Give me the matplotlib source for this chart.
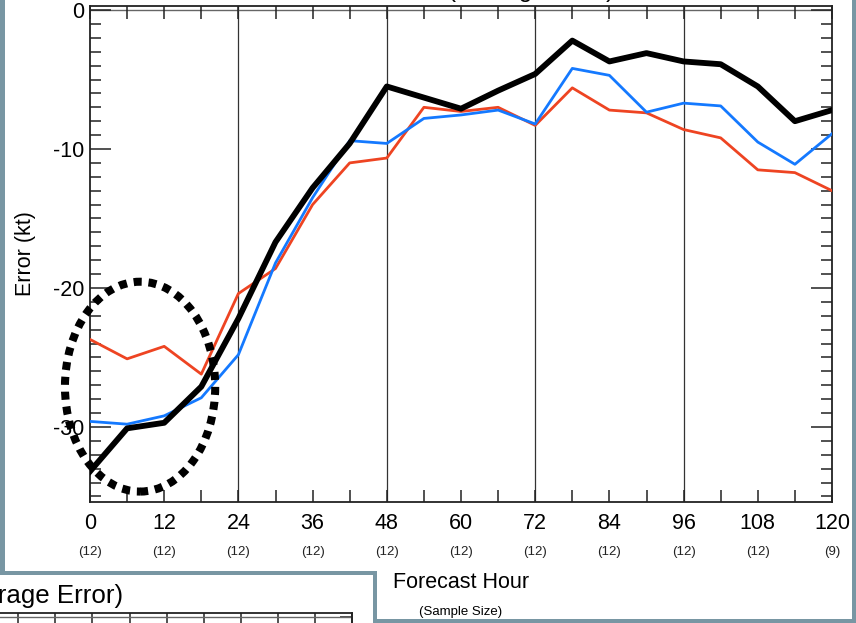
import matplotlib
matplotlib.use("Agg")
import matplotlib.pyplot as plt
from matplotlib.patches import Rectangle, Ellipse
from matplotlib.transforms import blended_transform_factory
import numpy as np

plt.rcParams['font.family'] = ['Liberation Sans', 'DejaVu Sans']

# ======================= data ======================================================
hours = [0, 6, 12, 18, 24, 30, 36, 42, 48, 54, 60, 66, 72, 78, 84, 90, 96, 102, 108, 114, 120]
black = [-33.2, -30.1, -29.7, -27.1, -22.2, -16.7, -12.8, -9.6, -5.5, -6.3, -7.1, -5.8,
         -4.6, -2.2, -3.7, -3.1, -3.7, -3.9, -5.5, -8.0, -7.2]
blue = [-29.6, -29.8, -29.2, -27.9, -24.8, -18.2, -13.5, -9.4, -9.6, -7.8, -7.55, -7.2,
        -8.2, -4.2, -4.7, -7.35, -6.7, -6.9, -9.5, -11.1, -8.9]
red = [-23.7, -25.1, -24.2, -26.2, -20.4, -18.6, -14.0, -11.0, -10.65, -7.0, -7.3, -7.0,
       -8.3, -5.6, -7.2, -7.4, -8.6, -9.2, -11.5, -11.7, -13.0]
tick_hours = [0, 12, 24, 36, 48, 60, 72, 84, 96, 108, 120]
sample_size = ['(12)'] * 10 + ['(9)']
y_ticks = [0, -10, -20, -30]
# ===================================================================================

W, H = 856, 623
BORDER = '#7896a3'
SPINE = '#222222'

fig = plt.figure(figsize=(W / 100, H / 100), dpi=100)
fig.patch.set_facecolor(BORDER)

# background panels in pixel coords
bg = fig.add_axes([0, 0, 1, 1], zorder=-10)
bg.set_xlim(0, W)
bg.set_ylim(H, 0)
bg.axis('off')
bg.add_patch(Rectangle((5, -5), 847, 624, facecolor='white', edgecolor='none'))
bg.add_patch(Rectangle((-5, 571), 382, 60, facecolor=BORDER, edgecolor='none'))
bg.add_patch(Rectangle((-5, 575), 378, 60, facecolor='white', edgecolor='none'))


def fx(px):
    return px / W


def fy(py):
    return 1 - py / H


# ======================= main axes =================================================
ax = fig.add_axes([fx(90), fy(502), fx(832) - fx(90), fy(6) - fy(502)])
ax.set_facecolor('none')
ax.set_xlim(0, 120)
ax.set_ylim(-35.4, 0.29)

for h in [24, 48, 72, 96]:
    ax.axvline(h, color='#333333', lw=0.9, zorder=1)
ax.axhline(0, color='#666666', lw=1.0, zorder=1)

ax.plot(hours, red, color='#ee4422', lw=2.0, zorder=3)
ax.plot(hours, blue, color='#1479ff', lw=2.0, zorder=3)
ax.plot(hours, black, color='black', lw=4.2, zorder=4)

ell = Ellipse((8.1, -27.1), 24.3, 15.1, fill=False, edgecolor='black', lw=5.8,
              linestyle=(0, (1.0, 0.85)), clip_on=False, zorder=5)
ax.add_patch(ell)

ax.set_xticks(tick_hours)
ax.set_xticks(np.arange(0, 121, 6), minor=True)
ax.set_xticklabels([str(h) for h in tick_hours], fontsize=15.5)
ax.set_yticks(y_ticks)
ax.set_yticks(np.arange(-35, 1, 1), minor=True)
ax.set_yticklabels([str(v) for v in y_ticks], fontsize=15.5)
ax.tick_params(axis='x', which='both', direction='in', top=True, length=9, width=1.1,
               color=SPINE, pad=8)
ax.tick_params(axis='y', which='major', direction='in', right=True, length=15, width=1.1,
               color=SPINE, pad=4)
ax.tick_params(axis='y', which='minor', direction='in', right=True, length=8, width=1.1,
               color=SPINE)
for s in ax.spines.values():
    s.set_color(SPINE)
    s.set_linewidth(1.3)

ax.set_ylabel('Error (kt)', fontsize=15.5, labelpad=12)

trans = blended_transform_factory(ax.transData, fig.transFigure)
for h, n in zip(tick_hours, sample_size):
    ax.text(h, fy(552), n, transform=trans, ha='center', va='center', fontsize=9.5,
            color='#222222')

fig.text(fx(461), fy(582), 'Forecast Hour', ha='center', va='center', fontsize=15.5)
fig.text(fx(461), fy(612), '(Sample Size)', ha='center', va='center', fontsize=9.5)

# clipped title of this panel
fig.text(fx(448), fy(-3.5), '(Average Error)', ha='left', va='baseline', fontsize=17.5)

# ======================= lower-left panel (partly hidden) ==========================
fig.text(fx(123), fy(603), '(Average Error)', ha='right', va='baseline', fontsize=18.6)
ax2 = fig.add_axes([fx(-10), fy(660), fx(352) - fx(-10), fy(613) - fy(660)], zorder=1)
ax2.set_facecolor('none')
ax2.set_xlim(120 - 362 / 6.18, 120)
ax2.set_ylim(-3.4, 0.3)
ax2.set_xticks(np.arange(66, 121, 6))
ax2.set_yticks([0])
ax2.axhline(0, color='#666666', lw=1.0)
ax2.tick_params(axis='x', direction='in', top=True, bottom=False, length=9, width=1.1,
                color=SPINE, labeltop=False, labelbottom=False)
ax2.tick_params(axis='y', direction='in', right=True, left=False, length=9, width=1.1,
                color=SPINE, labelleft=False)
for s in ax2.spines.values():
    s.set_color(SPINE)
    s.set_linewidth(1.3)

fig.savefig('out.png', dpi=100, facecolor=fig.get_facecolor())
